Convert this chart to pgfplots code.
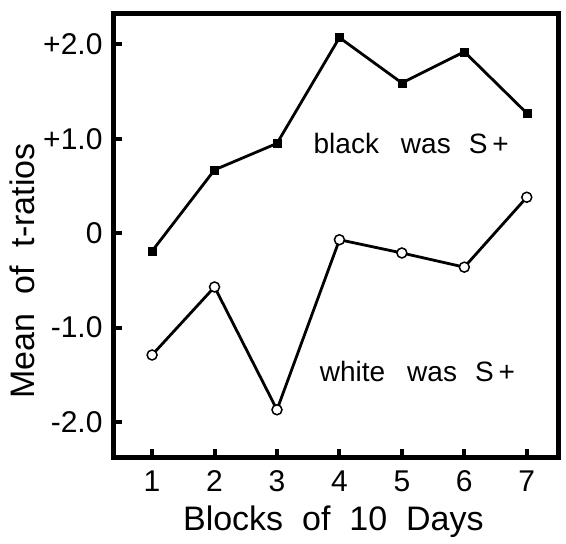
\documentclass[border=0pt]{standalone}
\usepackage{pgfplots}
\pgfplotsset{compat=1.18}
\usepackage{fontspec}
\setmainfont{Liberation Sans}
\begin{document}
\begin{tikzpicture}
\begin{axis}[
  width=444pt, height=443pt, scale only axis,
  xmin=0.39, xmax=7.5, ymin=-2.37, ymax=2.32,
  axis line style={line width=5pt, line join=miter},
  xtick={1,2,3,4,5,6,7},
  ytick={-2,-1,0,1,2},
  yticklabels={{-2.0},{-1.0},{0},{+1.0},{+2.0}},
  xtick pos=bottom, ytick pos=left,
  tick align=inside,
  major tick length=8pt,
  tick style={line width=4pt, black},
  /pgf/number format/assume math mode=true,
  ticklabel style={font=\fontsize{30}{34}\selectfont},
  xticklabel style={yshift=-10pt},
  yticklabel style={xshift=-8pt},
  label style={font=\fontsize{34}{38}\selectfont},
  xlabel={Blocks\ \ of\ \ 10\ \ Days},
  ylabel={Mean\ \ of\ \ t-ratios},
  xlabel style={at={(axis description cs:0.494,-0.165)}, anchor=base},
  ylabel style={at={(axis description cs:-0.178,0.42)}, anchor=base},
  clip=false,
]
\addplot[black, line width=2.8pt, mark=square*, mark options={solid, line width=0.5pt, fill=black}, mark size=4pt]
 coordinates {(1,-0.19) (2,0.67) (3,0.95) (4,2.07) (5,1.59) (6,1.92) (7,1.27)};
\addplot[black, line width=2.8pt, mark=*, mark options={solid, line width=1.5pt, fill=white}, mark size=5pt]
 coordinates {(1,-1.29) (2,-0.57) (3,-1.87) (4,-0.07) (5,-0.21) (6,-0.36) (7,0.38)};
\node[font=\fontsize{28}{32}\selectfont] at (axis cs:5.15,0.95) {black\hspace{22pt}was\hspace{18pt}S\hspace{5pt}+};
\node[font=\fontsize{28}{32}\selectfont] at (axis cs:5.25,-1.47) {white\hspace{22pt}was\hspace{18pt}S\hspace{5pt}+};
\end{axis}
\path ([xshift=-114pt,yshift=-86pt]current axis.south west) rectangle ([xshift=8pt,yshift=14pt]current axis.north east);
\end{tikzpicture}
\end{document}
